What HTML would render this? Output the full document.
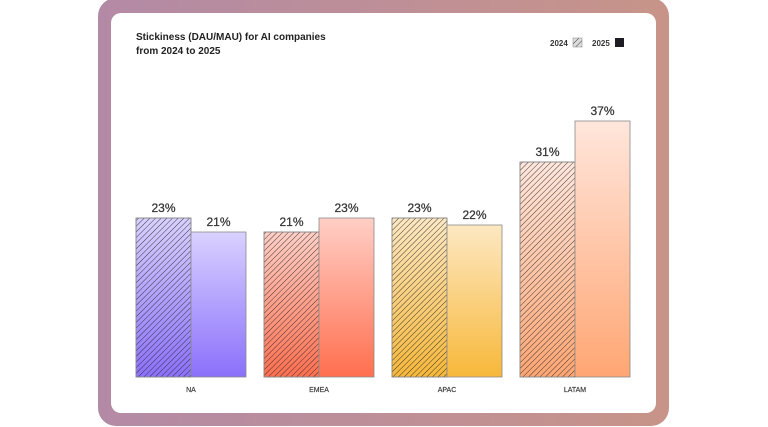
<!DOCTYPE html>
<html><head><style>
html,body{margin:0;padding:0;background:#fff;}
svg{display:block;font-family:"Liberation Sans",sans-serif;}
</style></head><body>
<svg width="768" height="427" viewBox="0 0 768 427" xmlns="http://www.w3.org/2000/svg">
<defs>
<linearGradient id="frame" x1="0" x2="1" y1="0" y2="0"><stop offset="0" stop-color="#b38aa6"/><stop offset="1" stop-color="#c89489"/></linearGradient>
<pattern id="hatch" width="4" height="4" patternUnits="userSpaceOnUse" patternTransform="rotate(45)"><line x1="0" y1="0" x2="0" y2="4" stroke="#2a2a2a" stroke-width="0.9"/></pattern>
<linearGradient id="na" x1="0" x2="0" y1="0" y2="1"><stop offset="0" stop-color="#d9d1ff"/><stop offset="1" stop-color="#8b70fb"/></linearGradient>
<linearGradient id="em" x1="0" x2="0" y1="0" y2="1"><stop offset="0" stop-color="#ffcfc6"/><stop offset="1" stop-color="#ff6f4f"/></linearGradient>
<linearGradient id="ap" x1="0" x2="0" y1="0" y2="1"><stop offset="0" stop-color="#fde8c2"/><stop offset="1" stop-color="#f7b83a"/></linearGradient>
<linearGradient id="la" x1="0" x2="0" y1="0" y2="1"><stop offset="0" stop-color="#ffe6dc"/><stop offset="1" stop-color="#ffa673"/></linearGradient>
</defs>
<rect x="98" y="-2" width="571" height="428" rx="18" fill="url(#frame)"/>
<rect x="111" y="13" width="545" height="400" rx="10" fill="#fff"/>
<text x="136" y="40" font-size="10" font-weight="bold" fill="#222">Stickiness (DAU/MAU) for AI companies</text>
<text x="136" y="54" font-size="10" font-weight="bold" fill="#222">from 2024 to 2025</text>
<text x="550" y="46" font-size="8" font-weight="bold" fill="#333">2024</text>
<rect x="573" y="38" width="9" height="9" fill="#ddd"/><rect x="573" y="38" width="9" height="9" fill="url(#hatch)" stroke="#888" stroke-width="0.5"/>
<text x="592" y="46" font-size="8" font-weight="bold" fill="#333">2025</text>
<rect x="615" y="38" width="9" height="9" fill="#1c1c22"/>
<g stroke="#8a8a8a" stroke-width="0.8">
<rect x="136" y="218" width="55" height="159" fill="url(#na)"/><rect x="136" y="218" width="55" height="159" fill="url(#hatch)"/>
<rect x="191" y="232" width="55" height="145" fill="url(#na)"/>
<rect x="264" y="232" width="55" height="145" fill="url(#em)"/><rect x="264" y="232" width="55" height="145" fill="url(#hatch)"/>
<rect x="319" y="218" width="55" height="159" fill="url(#em)"/>
<rect x="392" y="218" width="55" height="159" fill="url(#ap)"/><rect x="392" y="218" width="55" height="159" fill="url(#hatch)"/>
<rect x="447" y="225" width="55" height="152" fill="url(#ap)"/>
<rect x="520" y="162" width="55" height="215" fill="url(#la)"/><rect x="520" y="162" width="55" height="215" fill="url(#hatch)"/>
<rect x="575" y="121" width="55" height="256" fill="url(#la)"/>
</g>
<g font-size="12" fill="#333" text-anchor="middle" stroke="#333" stroke-width="0.25">
<text x="163.5" y="212">23%</text><text x="218.5" y="226">21%</text>
<text x="291.5" y="226">21%</text><text x="346.5" y="212">23%</text>
<text x="419.5" y="212">23%</text><text x="474.5" y="219">22%</text>
<text x="547.5" y="156">31%</text><text x="602.5" y="115">37%</text>
</g>
<g font-size="7" fill="#333" text-anchor="middle" stroke="#333" stroke-width="0.15">
<text x="191" y="392">NA</text><text x="319" y="392">EMEA</text><text x="447" y="392">APAC</text><text x="575" y="392">LATAM</text>
</g>
</svg>
</body></html>
